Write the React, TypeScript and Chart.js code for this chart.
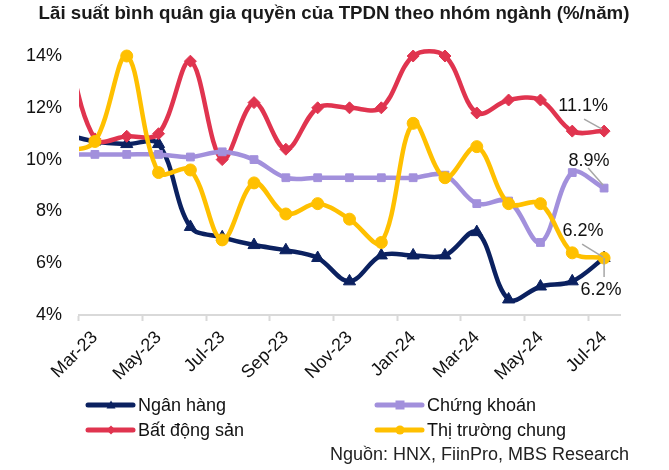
import React, { useEffect, useRef } from 'react';
import { Chart, registerables } from 'chart.js';

Chart.register(...registerables);

// Categories (Feb-23 lies just outside the visible axis; its line segment is clipped at the left edge)
const months = ['Feb-23', 'Mar-23', 'Apr-23', 'May-23', 'Jun-23', 'Jul-23', 'Aug-23', 'Sep-23', 'Oct-23', 'Nov-23', 'Dec-23', 'Jan-24', 'Feb-24', 'Mar-24', 'Apr-24', 'May-24', 'Jun-24', 'Jul-24'];
const firstMonth = 'Mar-23';
const lastMonth = 'Jul-24';

// Series values (%/năm)
const nganHang = [11.0, 10.7, 10.6, 10.6, 7.4, 7.0, 6.7, 6.5, 6.2, 5.3, 6.3, 6.3, 6.3, 7.2, 4.6, 5.1, 5.3, 6.2];
const batDongSan = [15.0, 10.8, 10.9, 11.0, 13.8, 10.0, 12.2, 10.4, 12.0, 12.0, 12.0, 14.0, 14.0, 11.8, 12.3, 12.3, 11.1, 11.1];
const chungKhoan = [10.2, 10.2, 10.2, 10.2, 10.1, 10.3, 10.0, 9.3, 9.3, 9.3, 9.3, 9.3, 9.4, 8.3, 8.4, 6.8, 9.5, 8.9];
const thiTruongChung = [10.3, 10.7, 14.0, 9.5, 9.6, 6.9, 9.1, 7.9, 8.3, 7.7, 6.8, 11.4, 9.3, 10.5, 8.3, 8.3, 6.4, 6.2];

// Y axis ticks
const yMin = 4;
const yMax = 14;
const yStep = 2;

const title = 'Lãi suất bình quân gia quyền của TPDN theo nhóm ngành (%/năm)';
const source = 'Nguồn: HNX, FiinPro, MBS Research';

const FONT = '"Liberation Sans", Arial, sans-serif';

type Series = {
  name: string;
  data: number[];
  color: string;
  pointStyle: string;
  radius: number;
  order: number;
  legend: [number, number];
  label: { dx: number; dy: number; lx1: number; ly1: number; lx2: number; ly2: number };
};

const series: Series[] = [
  { name: 'Ngân hàng', data: nganHang, color: '#0B2160', pointStyle: 'triangle', radius: 7, order: 3, legend: [86, 405],
    label: { dx: -3, dy: 32, lx1: 0, ly1: 0, lx2: 0, ly2: 19 } },
  { name: 'Chứng khoán', data: chungKhoan, color: '#A290DC', pointStyle: 'rect', radius: 5.5, order: 1, legend: [375, 405],
    label: { dx: -15, dy: -27, lx1: -16, ly1: -20, lx2: -1, ly2: -3 } },
  { name: 'Bất động sản', data: batDongSan, color: '#E0344F', pointStyle: 'rectRot', radius: 6, order: 2, legend: [86, 430],
    label: { dx: -21, dy: -25, lx1: -20, ly1: -12, lx2: -2, ly2: -2 } },
  { name: 'Thị trường chung', data: thiTruongChung, color: '#FFC000', pointStyle: 'circle', radius: 6, order: 0, legend: [375, 430],
    label: { dx: -21, dy: -27, lx1: -22, ly1: -14, lx2: -1, ly2: -1 } },
];

function drawMarker(ctx: CanvasRenderingContext2D, style: string, x: number, y: number, r: number, color: string) {
  ctx.save();
  ctx.fillStyle = color;
  ctx.beginPath();
  if (style === 'triangle') {
    ctx.moveTo(x, y - r);
    ctx.lineTo(x + r, y + r * 0.8);
    ctx.lineTo(x - r, y + r * 0.8);
    ctx.closePath();
  } else if (style === 'rectRot') {
    ctx.moveTo(x, y - r);
    ctx.lineTo(x + r, y);
    ctx.lineTo(x, y + r);
    ctx.lineTo(x - r, y);
    ctx.closePath();
  } else if (style === 'rect') {
    ctx.rect(x - r, y - r, 2 * r, 2 * r);
  } else {
    ctx.arc(x, y, r, 0, Math.PI * 2);
  }
  ctx.fill();
  ctx.restore();
}

const decorPlugin = {
  id: 'decor',
  afterDraw(chart: any) {
    const ctx: CanvasRenderingContext2D = chart.ctx;
    ctx.save();
    // Title
    ctx.fillStyle = '#1a1a1a';
    ctx.font = `bold 18.7px ${FONT}`;
    ctx.textAlign = 'center';
    ctx.textBaseline = 'middle';
    ctx.fillText(title, 334, 14);

    // Point labels for the last values
    ctx.font = `18px ${FONT}`;
    series.forEach((s, i) => {
      const meta = chart.getDatasetMeta(i);
      const pt = meta.data[meta.data.length - 1];
      if (!pt) return;
      const x = pt.x;
      const y = pt.y;
      ctx.strokeStyle = '#a6a6a6';
      ctx.lineWidth = 1.5;
      ctx.beginPath();
      ctx.moveTo(x + s.label.lx1, y + s.label.ly1);
      ctx.lineTo(x + s.label.lx2, y + s.label.ly2);
      ctx.stroke();
      ctx.fillStyle = '#111';
      ctx.textAlign = 'center';
      ctx.textBaseline = 'middle';
      const v = s.data[s.data.length - 1];
      ctx.fillText(v.toFixed(1) + '%', x + s.label.dx, y + s.label.dy);
    });

    // Legend
    series.forEach((s) => {
      const [lx, ly] = s.legend;
      ctx.strokeStyle = s.color;
      ctx.lineWidth = 5;
      ctx.lineCap = 'round';
      ctx.beginPath();
      ctx.moveTo(lx + 2, ly);
      ctx.lineTo(lx + 47, ly);
      ctx.stroke();
      drawMarker(ctx, s.pointStyle, lx + 25, ly, 4.5, s.color);
      ctx.fillStyle = '#111';
      ctx.textAlign = 'left';
      ctx.textBaseline = 'middle';
      ctx.font = `18px ${FONT}`;
      ctx.fillText(s.name, lx + 52, ly + 1);
    });

    // Source
    ctx.fillStyle = '#222';
    ctx.font = `18px ${FONT}`;
    ctx.textAlign = 'right';
    ctx.textBaseline = 'middle';
    ctx.fillText(source, 629, 455);
    ctx.restore();
  },
};

export default function App() {
  const canvasRef = useRef<HTMLCanvasElement | null>(null);

  useEffect(() => {
    const canvas = canvasRef.current;
    if (!canvas) return;
    const chart = new Chart(canvas, {
      type: 'line',
      data: {
        labels: months,
        datasets: series.map((s) => ({
          label: s.name,
          data: s.data,
          borderColor: s.color,
          backgroundColor: s.color,
          borderWidth: 4.5,
          tension: 0.35,
          capBezierPoints: false,
          pointStyle: s.pointStyle as any,
          pointRadius: (c: any) => (c.dataIndex === 0 ? 0 : s.radius),
          pointBorderWidth: 1,
          pointBorderColor: s.color,
          pointBackgroundColor: s.color,
          order: s.order,
          clip: { left: 0, top: false, right: false, bottom: false } as any,
        })),
      },
      options: {
        responsive: false,
        animation: false,
        elements: { line: { capBezierPoints: false } },
        layout: { padding: { left: 0, right: 49, top: 56, bottom: 80 } },
        plugins: {
          legend: { display: false },
          tooltip: { enabled: false },
          title: { display: false },
        },
        scales: {
          x: {
            type: 'category',
            min: firstMonth,
            max: lastMonth,
            offset: true,
            afterFit: (s: any) => { s.height = 75; },
            border: { display: true, color: '#d9d9d9', width: 2 },
            grid: {
              offset: true,
              drawOnChartArea: false,
              drawTicks: true,
              tickLength: 6,
              tickWidth: 2,
              tickColor: (c: any) => (c.index % 2 === 0 ? '#d9d9d9' : 'rgba(0,0,0,0)'),
            },
            ticks: {
              autoSkip: false,
              minRotation: 45,
              maxRotation: 45,
              padding: 6,
              color: '#111',
              font: { family: FONT, size: 18 },
              callback: function (this: any, value: any, index: number) {
                return index % 2 === 0 ? this.getLabelForValue(value) : '';
              },
            },
          },
          y: {
            min: yMin,
            max: yMax,
            afterFit: (s: any) => { s.width = 79; },
            border: { display: false },
            grid: { display: false, drawTicks: false },
            ticks: {
              stepSize: yStep,
              padding: 17,
              color: '#111',
              font: { family: FONT, size: 18 },
              callback: (v: any) => `${v}%`,
            },
          },
        },
      },
      plugins: [decorPlugin],
    } as any);
    return () => chart.destroy();
  }, []);

  return (
    <div style={{ position: 'absolute', left: 0, top: 0, width: 669, height: 470, background: '#fff' }}>
      <canvas ref={canvasRef} width={669} height={470} style={{ width: 669, height: 470 }} />
    </div>
  );
}
